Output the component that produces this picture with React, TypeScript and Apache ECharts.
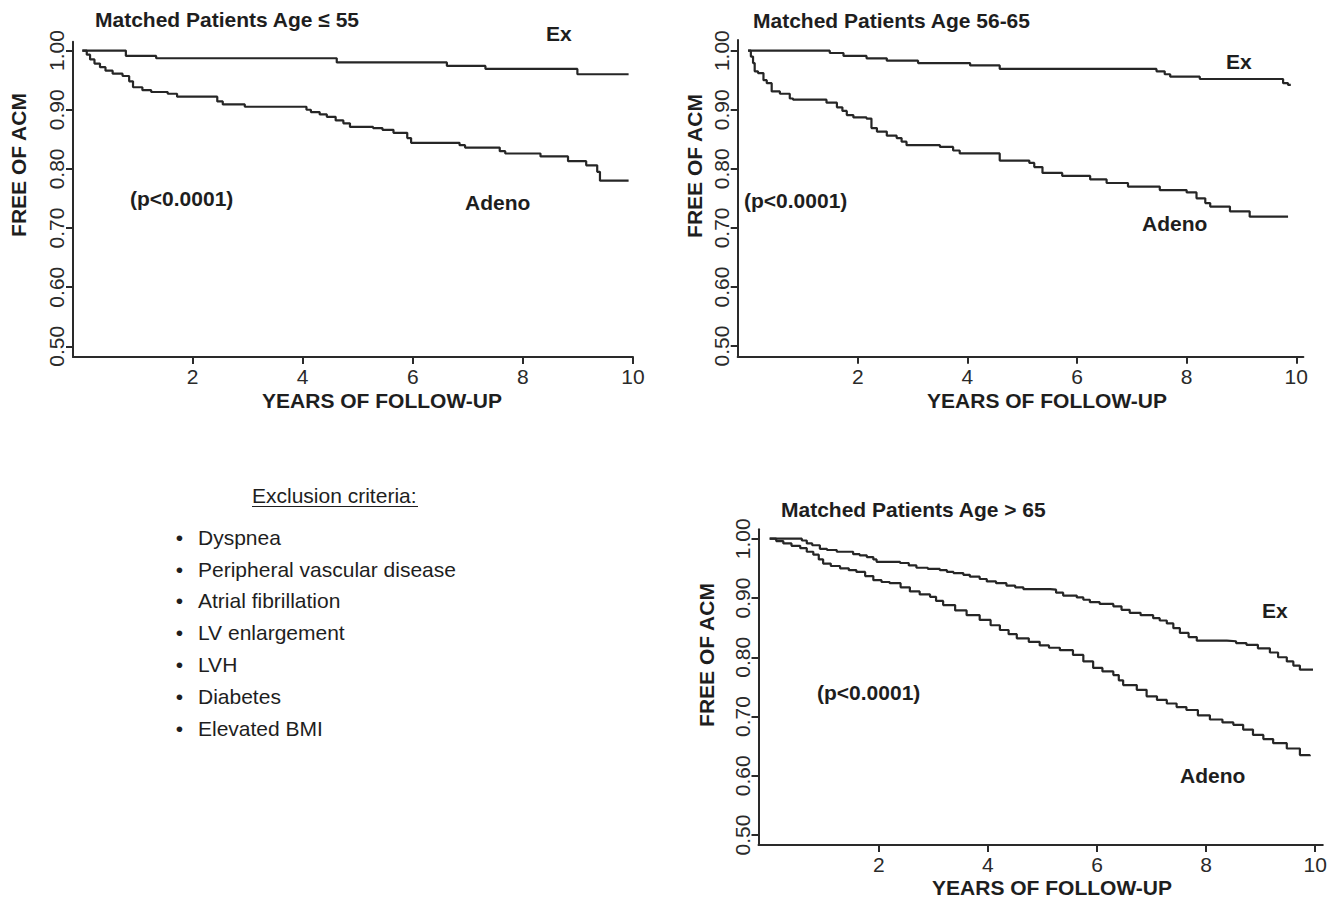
import React, { useEffect, useRef } from "react";
import * as echarts from "echarts";

const FONT = '"Liberation Sans", Arial, Helvetica, sans-serif';
const INK = "#1e1e1e";
const LINE = "#262626";

const xTicks = [2, 4, 6, 8, 10];
const yTicks = [0.5, 0.6, 0.7, 0.8, 0.9, 1.0];

// Panel 1: age <= 55
const ex55: [number, number][] = [
  [0, 1.0], [0.79, 0.991], [1.34, 0.987], [4.62, 0.98], [6.62, 0.974],
  [7.32, 0.969], [8.99, 0.96], [9.92, 0.96],
];
const adeno55: [number, number][] = [
  [0, 1.0], [0.08, 0.993], [0.14, 0.985], [0.22, 0.978], [0.32, 0.972],
  [0.42, 0.966], [0.55, 0.961], [0.73, 0.957], [0.85, 0.948], [0.92, 0.938],
  [1.09, 0.933], [1.25, 0.93], [1.55, 0.927], [1.72, 0.922], [2.45, 0.914],
  [2.55, 0.909], [2.95, 0.905], [4.07, 0.9], [4.15, 0.896], [4.31, 0.892],
  [4.44, 0.888], [4.6, 0.882], [4.74, 0.877], [4.86, 0.871], [5.28, 0.869],
  [5.45, 0.866], [5.65, 0.861], [5.9, 0.852], [5.97, 0.844], [6.85, 0.84],
  [6.95, 0.836], [7.58, 0.83], [7.68, 0.826], [8.32, 0.821], [8.82, 0.813],
  [9.15, 0.806], [9.35, 0.795], [9.4, 0.78], [9.92, 0.78],
];

// Panel 2: age 56-65
const ex5665: [number, number][] = [
  [0, 1.0], [1.49, 0.996], [1.74, 0.991], [2.16, 0.987], [2.53, 0.983],
  [3.1, 0.979], [4.05, 0.975], [4.59, 0.969], [7.45, 0.965], [7.6, 0.96],
  [7.7, 0.956], [8.24, 0.952], [9.76, 0.945], [9.85, 0.942], [9.9, 0.942],
];
const adeno5665: [number, number][] = [
  [0, 1.0], [0.05, 0.99], [0.09, 0.979], [0.12, 0.965], [0.18, 0.962],
  [0.28, 0.95], [0.34, 0.945], [0.43, 0.931], [0.58, 0.927], [0.76, 0.919],
  [0.82, 0.917], [1.43, 0.912], [1.62, 0.904], [1.72, 0.898], [1.8, 0.891],
  [1.92, 0.887], [2.16, 0.885], [2.25, 0.869], [2.35, 0.863], [2.53, 0.856],
  [2.71, 0.852], [2.8, 0.846], [2.89, 0.84], [3.5, 0.837], [3.74, 0.831],
  [3.86, 0.826], [4.59, 0.814], [5.13, 0.81], [5.22, 0.803], [5.37, 0.793],
  [5.73, 0.788], [6.24, 0.782], [6.54, 0.776], [6.93, 0.77], [7.51, 0.764],
  [8.0, 0.76], [8.18, 0.75], [8.34, 0.742], [8.43, 0.736], [8.79, 0.728],
  [9.15, 0.719], [9.85, 0.719],
];

// Panel 3: age > 65
const ex65: [number, number][] = [
  [0, 1.0], [0.59, 0.997], [0.68, 0.992], [0.78, 0.989], [0.92, 0.983],
  [1.05, 0.981], [1.23, 0.978], [1.53, 0.974], [1.65, 0.972], [1.78, 0.969],
  [1.9, 0.965], [1.96, 0.961], [2.39, 0.959], [2.55, 0.955], [2.69, 0.951],
  [2.9, 0.949], [3.12, 0.947], [3.25, 0.944], [3.37, 0.942], [3.55, 0.939],
  [3.67, 0.936], [3.85, 0.932], [3.98, 0.928], [4.15, 0.925], [4.34, 0.921],
  [4.5, 0.918], [4.65, 0.915], [5.14, 0.914], [5.25, 0.909], [5.38, 0.904],
  [5.63, 0.901], [5.75, 0.897], [5.87, 0.893], [6.05, 0.89], [6.3, 0.886],
  [6.45, 0.88], [6.6, 0.875], [6.8, 0.871], [7.03, 0.866], [7.15, 0.862],
  [7.28, 0.857], [7.4, 0.849], [7.52, 0.841], [7.68, 0.834], [7.83, 0.828],
  [8.38, 0.827], [8.55, 0.824], [8.74, 0.821], [8.95, 0.815], [9.17, 0.808],
  [9.32, 0.8], [9.48, 0.793], [9.6, 0.786], [9.72, 0.779], [9.96, 0.779],
];
const adeno65: [number, number][] = [
  [0, 1.0], [0.12, 0.996], [0.25, 0.992], [0.4, 0.988], [0.56, 0.984],
  [0.68, 0.978], [0.8, 0.973], [0.9, 0.965], [0.98, 0.958], [1.12, 0.954],
  [1.29, 0.95], [1.45, 0.947], [1.59, 0.944], [1.75, 0.937], [1.9, 0.93],
  [2.05, 0.927], [2.2, 0.925], [2.4, 0.918], [2.57, 0.911], [2.75, 0.906],
  [2.94, 0.902], [3.05, 0.895], [3.18, 0.888], [3.4, 0.879], [3.61, 0.871],
  [3.85, 0.863], [4.05, 0.854], [4.22, 0.846], [4.38, 0.839], [4.53, 0.832],
  [4.75, 0.826], [4.95, 0.82], [5.12, 0.816], [5.32, 0.812], [5.56, 0.804],
  [5.75, 0.793], [5.93, 0.782], [6.1, 0.776], [6.3, 0.77], [6.4, 0.761],
  [6.48, 0.753], [6.73, 0.745], [6.91, 0.734], [7.1, 0.728], [7.28, 0.722],
  [7.46, 0.716], [7.64, 0.711], [7.85, 0.702], [8.07, 0.695], [8.3, 0.69],
  [8.5, 0.686], [8.68, 0.678], [8.86, 0.669], [9.05, 0.662], [9.23, 0.655],
  [9.48, 0.646], [9.72, 0.635], [9.9, 0.633],
];

const criteria = [
  "Dyspnea",
  "Peripheral vascular disease",
  "Atrial fibrillation",
  "LV enlargement",
  "LVH",
  "Diabetes",
  "Elevated BMI",
];

const panels = [
  { left: 73, top: 41.7, width: 560, height: 315.3, xMin: -0.17, xMax: 10.0, yMin: 0.482, yMax: 1.015 },
  { left: 737.7, top: 40, width: 565.7, height: 316.7, xMin: -0.19, xMax: 10.13, yMin: 0.482, yMax: 1.018 },
  { left: 758.5, top: 529.3, width: 564.3, height: 315.7, xMin: -0.205, xMax: 10.14, yMin: 0.4832, yMax: 1.0159 },
];

const seriesData = [
  [ex55, adeno55],
  [ex5665, adeno5665],
  [ex65, adeno65],
];

function txt(x: number, y: number, text: string, opts: any = {}) {
  return {
    type: "text",
    x,
    y,
    rotation: opts.rotation || 0,
    style: {
      text,
      fill: INK,
      font: `${opts.bold ? "bold " : ""}${opts.size || 21}px ${FONT}`,
      align: opts.align || "left",
      verticalAlign: "middle",
    },
  };
}

export default function App() {
  const ref = useRef<HTMLDivElement>(null);
  useEffect(() => {
    if (!ref.current) return;
    const chart = echarts.init(ref.current, null, { renderer: "svg" });

    const grid = panels.map((p) => ({ left: p.left, top: p.top, width: p.width, height: p.height, containLabel: false }));
    const axisLineStyle = { color: "#2a2a2a", width: 2 };
    const xAxis = panels.map((p, i) => ({
      type: "value",
      gridIndex: i,
      min: p.xMin,
      max: p.xMax,
      splitLine: { show: false },
      axisLine: { show: true, onZero: false, lineStyle: axisLineStyle },
      axisTick: { show: true, length: 7, customValues: xTicks, lineStyle: axisLineStyle },
      axisLabel: {
        customValues: xTicks,
        margin: 9,
        fontSize: 21,
        fontFamily: FONT,
        color: "#2a2a2a",
      },
    }));
    const yAxis = panels.map((p, i) => ({
      type: "value",
      gridIndex: i,
      min: p.yMin,
      max: p.yMax,
      splitLine: { show: false },
      axisLine: { show: true, onZero: false, lineStyle: axisLineStyle },
      axisTick: { show: true, length: 7, customValues: yTicks, lineStyle: axisLineStyle },
      axisLabel: {
        customValues: yTicks,
        rotate: 90,
        margin: 6,
        fontSize: 21,
        fontFamily: FONT,
        color: "#2a2a2a",
        formatter: (v: number) => v.toFixed(2),
      },
    }));

    const series: any[] = [];
    seriesData.forEach((pair, i) => {
      pair.forEach((d, j) => {
        series.push({
          type: "line",
          name: (j === 0 ? "Ex" : "Adeno") + i,
          xAxisIndex: i,
          yAxisIndex: i,
          data: d,
          step: "end",
          showSymbol: false,
          symbol: "none",
          lineStyle: { color: LINE, width: 2.2 },
          silent: true,
        });
      });
    });

    const graphics: any[] = [
      // titles
      txt(95, 19, "Matched Patients Age \u2264 55", { bold: true }),
      txt(753, 20, "Matched Patients Age 56-65", { bold: true }),
      txt(781, 509, "Matched Patients Age > 65", { bold: true }),
      // y-axis titles
      txt(18, 165, "FREE OF ACM", { bold: true, align: "center", rotation: Math.PI / 2 }),
      txt(694, 166, "FREE OF ACM", { bold: true, align: "center", rotation: Math.PI / 2 }),
      txt(706, 655, "FREE OF ACM", { bold: true, align: "center", rotation: Math.PI / 2 }),
      // x-axis titles
      txt(382, 400, "YEARS OF FOLLOW-UP", { bold: true, align: "center" }),
      txt(1047, 400, "YEARS OF FOLLOW-UP", { bold: true, align: "center" }),
      txt(1052, 887, "YEARS OF FOLLOW-UP", { bold: true, align: "center" }),
      // curve labels
      txt(546, 33, "Ex", { bold: true }),
      txt(465, 202, "Adeno", { bold: true }),
      txt(130, 198, "(p<0.0001)", { bold: true }),
      txt(1226, 61, "Ex", { bold: true }),
      txt(1142, 223, "Adeno", { bold: true }),
      txt(744, 200, "(p<0.0001)", { bold: true }),
      txt(1262, 610, "Ex", { bold: true }),
      txt(1180, 775, "Adeno", { bold: true }),
      txt(817, 692, "(p<0.0001)", { bold: true }),
      // exclusion criteria
      txt(252, 495, "Exclusion criteria:", {}),
      {
        type: "line",
        shape: { x1: 252, y1: 506.5, x2: 418, y2: 506.5 },
        style: { stroke: INK, lineWidth: 1.2 },
      },
    ];
    criteria.forEach((c, k) => {
      const y = 537.3 + k * 31.8;
      graphics.push(txt(179.5, y, "\u2022", { align: "center" }));
      graphics.push(txt(198, y, c, {}));
    });

    chart.setOption({
      animation: false,
      backgroundColor: "#ffffff",
      grid,
      xAxis,
      yAxis,
      series,
      graphic: graphics,
    });
    return () => chart.dispose();
  }, []);

  return (
    <div
      ref={ref}
      style={{ position: "fixed", left: 0, top: 0, width: 1337, height: 901, background: "#fff" }}
    />
  );
}
